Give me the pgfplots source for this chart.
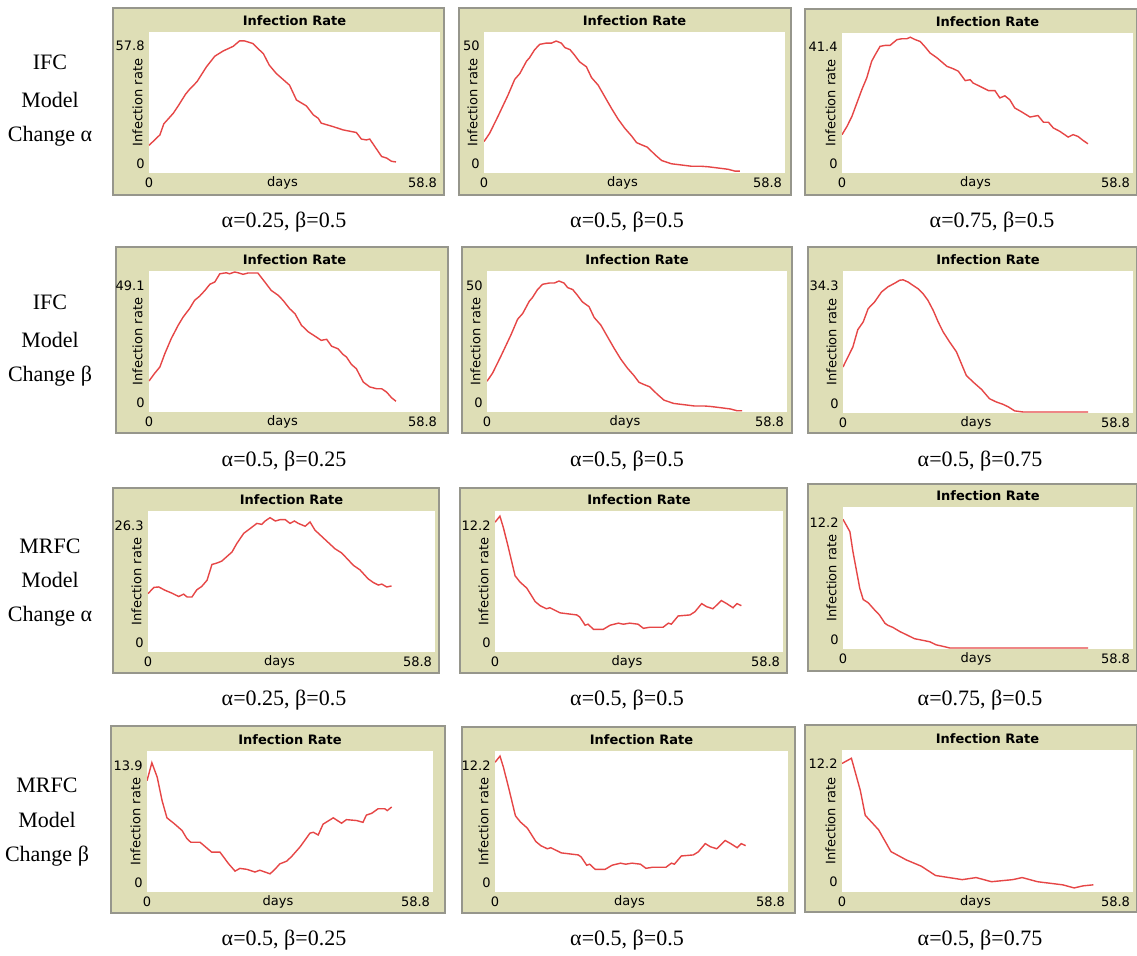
\documentclass[border=0pt]{standalone}
\usepackage{fontspec}
\usepackage{pgfplots}
\usepackage{pgfplotstable}
\pgfplotsset{compat=1.18}
\setmainfont{Liberation Serif}
\newfontfamily\pfontfam{DejaVu Sans}
\newcommand\pfont{\pfontfam\fontsize{6.5}{7.5}\selectfont}
\newcommand\cfont{\fontsize{11}{13}\selectfont}
\definecolor{beige}{RGB}{222,222,182}
\definecolor{frameline}{RGB}{150,150,140}
\definecolor{nred}{RGB}{230,70,70}

\pgfplotstableread{
x y
0 11.9
2.2 16.7
3.0 21.8
4.9 26.6
5.9 30.0
7.4 35.4
8.2 37.6
9.7 41.1
11.6 47.9
13.3 52.8
15.0 55.2
17.0 57.3
18.3 59.8
19.3 59.8
21.0 58.6
22.0 56.3
23.1 54.0
24.3 48.7
25.7 44.9
28.4 39.5
29.8 32.7
31.8 30.0
33.2 25.9
34.2 24.3
34.8 22.1
37.2 20.5
39.2 19.0
41.9 17.8
42.9 14.8
43.9 14.4
44.6 14.8
47.0 6.8
48.0 6.1
49.0 4.6
49.9 4.3
}\tAA

\pgfplotstableread{
x y
0 11.8
1.1 15.1
2.7 21.7
4.7 30.3
6.0 36.5
7.0 38.8
8.3 43.7
8.9 45.1
9.9 48.3
10.9 50.4
12.2 50.9
13.2 50.9
14.1 51.7
15.1 50.9
15.8 49.1
16.8 48.3
17.7 46.1
18.7 43.4
20.0 41.5
21.0 37.2
22.3 34.2
23.6 29.6
24.9 25.0
26.2 20.7
27.5 17.1
28.8 14.1
29.8 11.4
30.8 10.5
31.9 9.6
33.4 6.6
34.7 4.3
36.6 3.0
38.6 2.5
40.6 2.0
42.5 2.0
43.8 1.8
45.8 1.3
47.7 0.8
49.0 0.1
50.0 0.1
}\tAB

\pgfplotstableread{
x y
0 12.3
1.0 15.0
2.0 18.3
3.0 22.7
4.0 27.1
5.0 31.0
6.0 36.5
6.7 38.6
7.7 41.4
8.7 41.7
9.7 41.7
11.1 43.6
12.1 43.9
13.1 43.9
13.8 44.4
14.8 43.6
15.8 43.0
16.8 41.2
17.8 39.2
19.2 37.6
21.2 34.8
22.5 34.0
23.5 33.2
24.9 30.1
25.9 30.4
26.5 29.3
27.9 28.2
29.6 26.8
30.9 26.8
31.9 24.4
32.9 25.1
33.9 23.8
34.9 21.1
36.3 19.8
38.0 18.1
39.6 18.6
40.7 16.4
41.7 16.4
42.7 14.5
44.0 13.4
45.7 11.5
46.7 12.3
47.7 11.7
48.7 10.4
49.7 9.3
}\tAC

\pgfplotstableread{
x y
0 11.7
1.1 14.6
2.2 17.2
3.2 22.4
4.5 28.3
5.9 33.5
6.9 36.7
8.2 40.0
9.2 43.2
10.2 44.8
11.3 47.1
12.3 49.5
13.3 50.4
14.3 53.6
15.6 54.0
16.3 53.6
17.3 54.3
18.0 54.0
19.0 53.4
20.0 53.9
22.0 53.9
23.4 50.4
24.7 47.1
26.1 45.2
27.1 43.2
28.4 40.0
29.5 38.0
30.8 33.5
32.2 30.9
33.8 28.9
34.8 27.6
35.9 28.0
36.9 25.3
38.2 24.3
39.2 22.1
39.9 21.1
40.9 18.2
41.9 16.5
43.3 11.3
44.6 9.4
46.0 8.7
47.0 8.7
48.0 7.4
49.0 5.2
49.9 3.8
}\tBA

\pgfplotstableread{
x y
0 12.2
1.0 14.9
2.0 17.6
3.0 22.3
4.1 24.4
5.1 28.0
6.4 29.8
7.8 32.5
9.1 33.9
10.5 34.9
11.5 35.7
12.2 35.8
13.2 35.2
14.2 34.3
15.2 33.4
16.2 32.1
17.2 30.3
18.3 27.5
19.3 24.4
20.3 21.7
21.6 19.0
23.0 16.3
24.0 13.1
25.0 9.9
26.4 8.1
28.1 6.1
29.7 3.6
31.1 2.7
32.4 2.1
33.5 1.4
34.8 0.3
36.5 0
49.7 0
}\tBC

\pgfplotstableread{
x y
0 12.0
1.2 13.3
2.2 13.4
3.5 12.7
4.9 12.1
6.3 11.4
7.3 11.9
8.0 11.3
9.0 11.3
10.0 12.8
11.0 13.5
12.1 14.8
13.1 18.1
14.1 18.4
15.1 18.8
16.2 19.8
17.2 20.7
18.2 22.5
19.6 24.6
20.9 25.6
22.3 26.7
23.3 26.5
24.0 27.2
25.0 27.9
26.1 27.2
27.1 27.5
28.1 27.5
29.1 26.7
30.0 27.2
30.8 26.7
32.2 26.1
33.2 27.0
34.2 25.3
36.3 23.3
38.3 21.4
39.7 20.5
42.1 17.9
43.4 17.0
45.1 15.1
46.2 14.3
47.2 13.8
47.9 14.0
48.9 13.4
49.9 13.6
}\tCA

\pgfplotstableread{
x y
0 12.5
1.0 13.1
1.7 12.0
2.7 10.1
4.1 7.3
5.1 6.7
6.5 6.1
8.2 4.8
9.2 4.4
10.5 4.1
11.2 4.2
13.3 3.7
15.0 3.6
16.7 3.5
17.3 3.3
18.4 2.5
19.0 2.6
20.1 2.1
22.1 2.1
23.5 2.5
25.2 2.7
26.2 2.6
27.5 2.7
29.2 2.6
30.3 2.2
31.6 2.3
34.3 2.3
35.4 2.7
36.0 2.6
37.4 3.4
39.8 3.5
40.8 3.8
42.2 4.6
43.2 4.3
44.5 4.1
46.2 4.9
47.3 4.6
48.6 4.2
49.4 4.6
50.3 4.4
}\tCB

\pgfplotstableread{
x y
0 12.5
1.4 11.3
2.0 9.4
2.7 7.6
3.4 5.8
4.1 4.7
5.1 4.4
6.4 3.7
7.4 3.2
8.5 2.4
9.1 2.2
10.1 2.0
11.5 1.6
12.8 1.3
14.5 0.9
16.6 0.7
17.6 0.6
18.9 0.3
19.9 0.2
21.6 0
49.7 0
}\tCC

\pgfplotstableread{
x y
0 12.2
1.0 14.2
2.1 12.6
3.1 10.0
4.1 8.1
5.5 7.5
7.2 6.7
8.2 5.8
9.0 5.4
10.9 5.4
13.3 4.3
15.0 4.3
16.8 3.0
18.1 2.2
19.1 2.5
20.5 2.4
22.2 2.1
23.2 2.3
25.3 1.9
26.3 2.4
27.3 3.0
28.7 3.3
29.7 3.8
31.5 4.9
33.5 6.4
34.2 6.5
35.2 6.2
36.2 7.4
38.3 8.1
40.0 7.5
41.0 7.9
43.1 7.8
44.4 7.6
45.1 8.4
46.2 8.6
47.5 9.1
48.9 9.1
49.4 8.9
50.3 9.3
}\tDA

\pgfplotstableread{
x y
0 12.2
1.9 12.7
3.7 9.6
4.7 7.2
7.4 5.8
9.9 3.7
13.0 2.9
16.0 2.3
18.9 1.4
24.3 1.0
27.1 1.2
30.2 0.8
34.5 1.0
36.4 1.2
39.5 0.8
44.6 0.5
46.9 0.2
48.7 0.4
50.8 0.5
}\tDC

\pgfplotsset{
  panel/.style={
    scale only axis, anchor=south west,
    xmin=0, xmax=58.8,
    axis background/.style={fill=white},
    axis line style={draw=none},
    tick style={draw=none},
    major tick length=0pt,
    xtick={0,58.8}, xticklabels={0,\llap{58.8\hspace{1.5pt}}},
    xticklabel style={anchor=center, yshift=-5pt, font=\pfont, inner sep=0pt},
    yticklabel style={anchor=east, xshift=-2pt, font=\pfont, inner sep=0pt},
    extra y ticks={0}, extra y tick labels={0},
    extra y tick style={yticklabel style={yshift=4pt}},
    xlabel={days},
    xlabel style={at={(axis description cs:0.5,0)}, anchor=center, yshift=-5pt, xshift=-6pt, font=\pfont, inner sep=0pt},
    ylabel={Infection rate},
    ylabel style={at={(axis description cs:0,0.5)}, anchor=south, font=\pfont, inner sep=3pt},
    title={Infection Rate},
    every axis title shift=0pt,
    title style={at={(axis description cs:0.5,1)}, anchor=center, yshift=5.5pt, font=\pfont\bfseries, inner sep=0pt},
  },
  curve/.style={color=nred, line width=0.7pt, mark=none},
}

\begin{document}
\begin{tikzpicture}
\useasboundingbox (0pt,0pt) rectangle (568.5pt,478pt);

% frames (coordinates in pixels of the reference, scaled by 0.5pt)
\begin{scope}[x=0.5pt,y=0.5pt]
\foreach \a/\b/\c/\d in {113/761/444/948, 459/761/791/948, 805/761/1137/947,
  116/523/448/709, 462/523/792/709, 808/523/1137/709,
  113/283/439/468, 460/283/787/468, 808/285/1137/472,
  111/43/445/230, 462/43/795/229, 805/44/1137/231}{
  \filldraw[fill=beige, draw=frameline, line width=0.6pt] (\a,\b) rectangle (\c,\d);
}
\end{scope}

% row 1
\begin{axis}[panel, at={(74.5pt,391.5pt)}, width=145.5pt, height=70.5pt, ymin=-0.76, ymax=63.9, ytick={57.8}, yticklabels={57.8}]
\addplot[curve] table {\tAA};
\end{axis}
\begin{axis}[panel, at={(242pt,391.5pt)}, width=150.5pt, height=70.5pt, ymin=-0.66, ymax=55.3, ytick={50}, yticklabels={50}]
\addplot[curve] table {\tAB};
\end{axis}
\begin{axis}[panel, at={(421pt,391.5pt)}, width=145.5pt, height=70pt, ymin=-0.33, ymax=45.8, ytick={41.4}, yticklabels={41.4}]
\addplot[curve] table {\tAC};
\end{axis}

% row 2
\begin{axis}[panel, at={(74.5pt,272pt)}, width=145.5pt, height=70.5pt, ymin=-0.39, ymax=54.7, ytick={49.1}, yticklabels={49.1}]
\addplot[curve] table {\tBA};
\end{axis}
\begin{axis}[panel, at={(243.5pt,272pt)}, width=150pt, height=70.5pt, ymin=-0.4, ymax=55.7, ytick={50}, yticklabels={50}]
\addplot[curve] table {\tAB};
\end{axis}
\begin{axis}[panel, at={(421.5pt,271.5pt)}, width=145pt, height=71pt, ymin=-0.27, ymax=38.2, ytick={34.3}, yticklabels={34.3}]
\addplot[curve] table {\tBC};
\end{axis}

% row 3
\begin{axis}[panel, at={(74pt,152pt)}, width=143.5pt, height=70.5pt, ymin=-0.21, ymax=29.3, ytick={26.3}, yticklabels={26.3}]
\addplot[curve] table {\tCA};
\end{axis}
\begin{axis}[panel, at={(247.5pt,152pt)}, width=144pt, height=70.5pt, ymin=-0.1, ymax=13.6, ytick={12.2}, yticklabels={12.2}]
\addplot[curve] table {\tCB};
\end{axis}
\begin{axis}[panel, at={(421.5pt,153.5pt)}, width=145pt, height=71pt, ymin=-0.1, ymax=13.7, ytick={12.2}, yticklabels={12.2}]
\addplot[curve] table {\tCC};
\end{axis}

% row 4
\begin{axis}[panel, at={(73.5pt,32pt)}, width=143pt, height=70.5pt, ymin=-0.11, ymax=15.5, ytick={13.9}, yticklabels={13.9}]
\addplot[curve] table {\tDA};
\end{axis}
\begin{axis}[panel, at={(247.5pt,32pt)}, width=146.5pt, height=70.5pt, ymin=-0.1, ymax=13.6, ytick={12.2}, yticklabels={12.2}]
\addplot[curve] table {\tCB};
\end{axis}
\begin{axis}[panel, at={(421pt,32pt)}, width=145.5pt, height=71pt, ymin=-0.19, ymax=13.5, ytick={12.2}, yticklabels={12.2}]
\addplot[curve] table {\tDC};
\end{axis}

\begin{scope}[x=0.5pt,y=0.5pt]
% captions
\node[font=\cfont] at (284,734) {α=0.25, β=0.5};
\node[font=\cfont] at (627,734) {α=0.5, β=0.5};
\node[font=\cfont] at (992,734) {α=0.75, β=0.5};
\node[font=\cfont] at (284,495) {α=0.5, β=0.25};
\node[font=\cfont] at (627,495) {α=0.5, β=0.5};
\node[font=\cfont] at (980,495) {α=0.5, β=0.75};
\node[font=\cfont] at (284,256) {α=0.25, β=0.5};
\node[font=\cfont] at (627,256) {α=0.5, β=0.5};
\node[font=\cfont] at (980,256) {α=0.75, β=0.5};
\node[font=\cfont] at (284,16) {α=0.5, β=0.25};
\node[font=\cfont] at (627,16) {α=0.5, β=0.5};
\node[font=\cfont] at (980,16) {α=0.5, β=0.75};

% row labels
\node[font=\cfont] at (50,894) {IFC};
\node[font=\cfont] at (50,856) {Model};
\node[font=\cfont] at (50,820) {Change α};
\node[font=\cfont] at (50,654) {IFC};
\node[font=\cfont] at (50,616) {Model};
\node[font=\cfont] at (50,580) {Change β};
\node[font=\cfont] at (50,410) {MRFC};
\node[font=\cfont] at (50,376) {Model};
\node[font=\cfont] at (50,340) {Change α};
\node[font=\cfont] at (47,171) {MRFC};
\node[font=\cfont] at (47,136) {Model};
\node[font=\cfont] at (47,100) {Change β};
\end{scope}
\end{tikzpicture}
\end{document}
